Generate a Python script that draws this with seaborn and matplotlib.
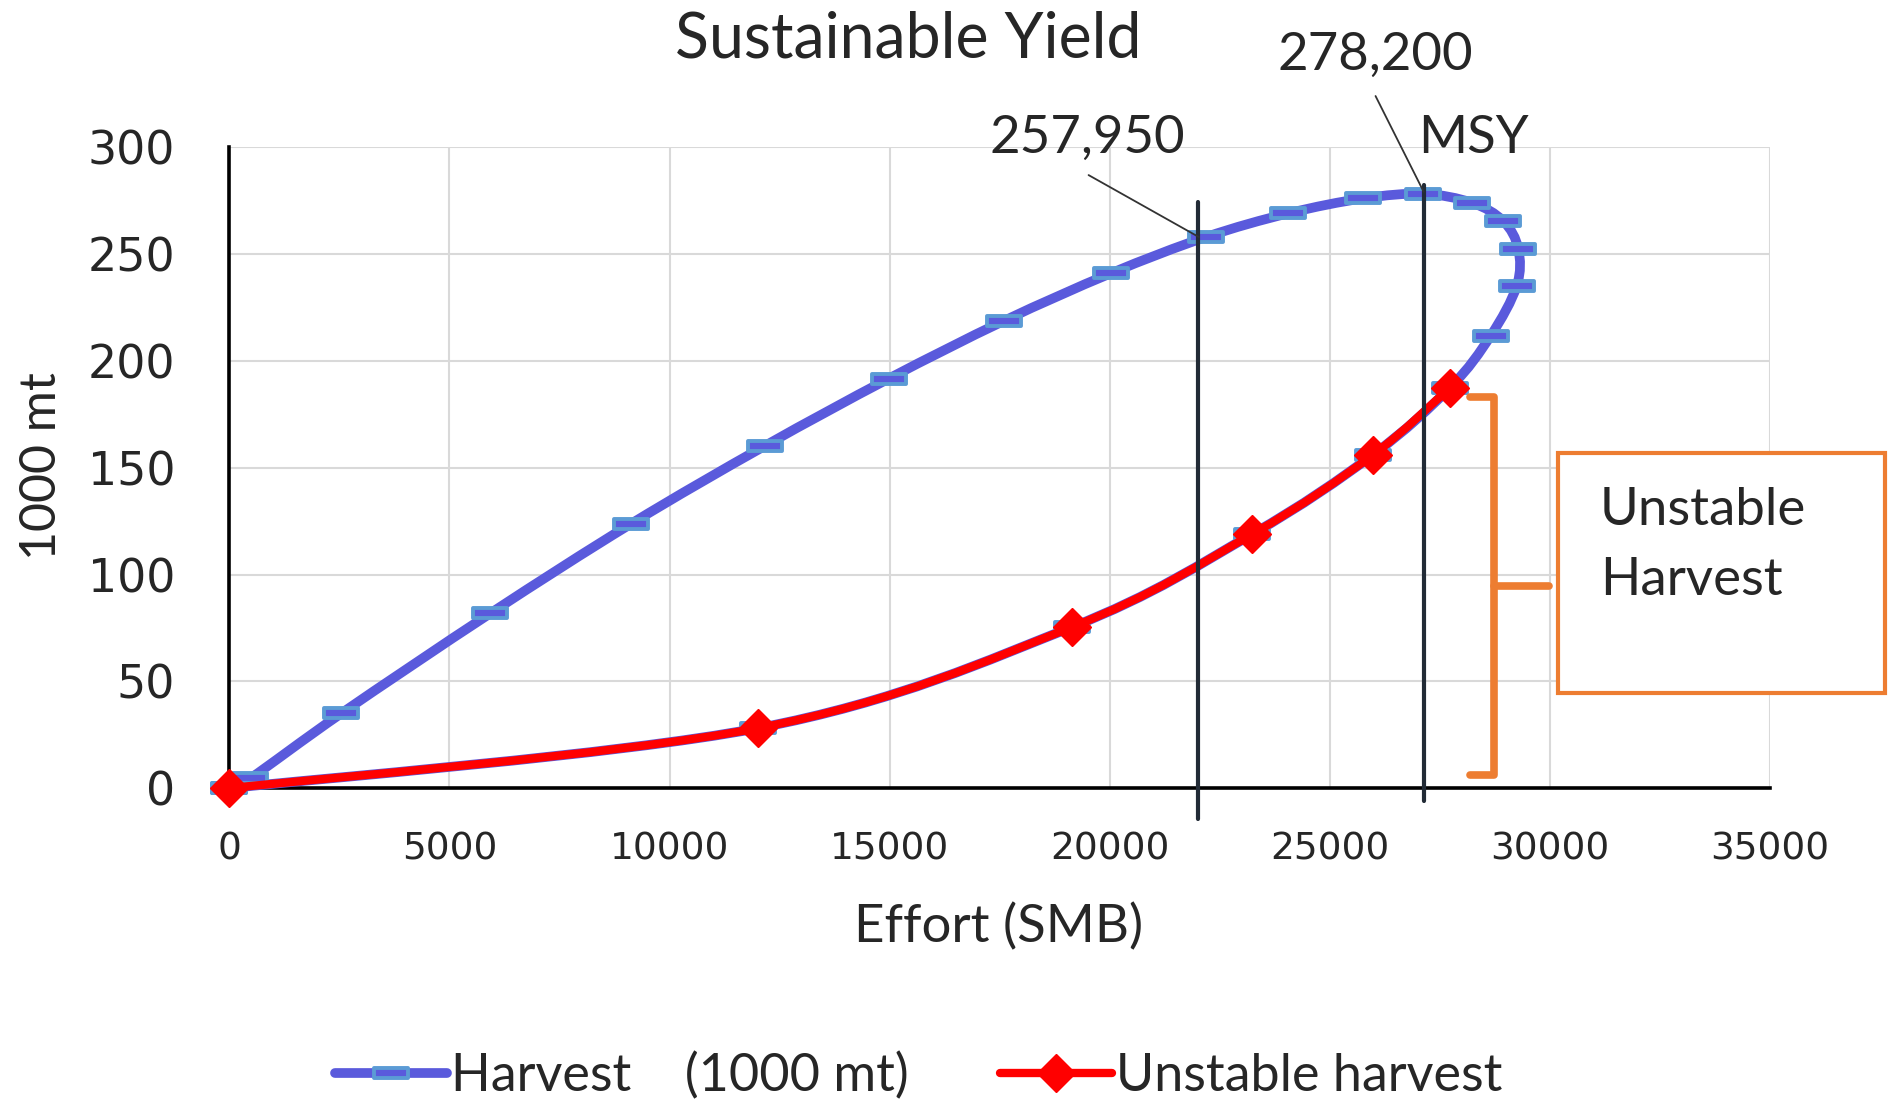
import numpy as np
import pandas as pd
import matplotlib
matplotlib.use("Agg")
import matplotlib.pyplot as plt
import seaborn as sns
from matplotlib.path import Path
from matplotlib.patches import PathPatch, Rectangle
from matplotlib.lines import Line2D

# ---------------- data ----------------
harvest_effort = [0, 480, 2547, 5931, 9119, 12170, 14977, 17590, 20023, 22180,
                  24057, 25761, 27124, 28224, 28941, 29282, 29246, 28655, 27731,
                  25975, 23240, 19134, 12000, 0]
harvest_yield = [0, 4.7, 35.1, 81.9, 123.7, 160.3, 191.7, 218.7, 241.0, 257.95,
                 269.1, 276.1, 278.2, 274.1, 265.5, 252.5, 235.1, 211.8, 187.5,
                 156.0, 119.0, 75.4, 28.1, 0]
unstable_effort = [0, 12000, 19134, 23240, 25975, 27731]
unstable_yield = [0, 28.1, 75.4, 119.0, 156.0, 187.5]

x_ticks = [0, 5000, 10000, 15000, 20000, 25000, 30000, 35000]
y_ticks = [0, 50, 100, 150, 200, 250, 300]

ref_efforts = [22000, 27150]          # vertical reference lines
ref_values = ["257,950", "278,200"]
unstable_range = [6.2, 183.3]         # bracket span (1000 mt)

title_text = "Sustainable Yield"
x_label = "Effort (SMB)"
y_label = "1000 mt"
series_names = ["Harvest    (1000 mt)", "Unstable harvest"]

# ---------------- style ----------------
sns.set_style("white")
plt.rcParams["font.family"] = ["Lato", "DejaVu Sans"]

BLUE = "#5A5ADC"
LIGHT_BLUE = "#5B9BD5"
RED = "#FF0000"
ORANGE = "#ED7D31"
VLINE = "#222B36"

W, H = 1888, 1102
fig = plt.figure(figsize=(W / 100, H / 100), dpi=100)
fx = lambda px: px / W
fy = lambda py: 1 - py / H

ax = fig.add_axes([fx(229.3), fy(788.3), (1770 - 229.3) / W, (788.3 - 147.3) / H])


def smooth_path(xs, ys):
    P = np.column_stack([xs, ys]).astype(float)
    n = len(P)
    verts = [P[0]]
    codes = [Path.MOVETO]
    for i in range(n - 1):
        p0 = P[i - 1] if i > 0 else P[i]
        p1 = P[i]
        p2 = P[i + 1]
        p3 = P[i + 2] if i + 2 < n else P[i + 1]
        c1 = p1 + (p2 - p0) / 6.0
        c2 = p2 - (p3 - p1) / 6.0
        verts += [c1, c2, p2]
        codes += [Path.CURVE4] * 3
    return Path(verts, codes)


dash_marker = Path([(-1, -0.3), (1, -0.3), (1, 0.3), (-1, 0.3), (-1, -0.3)],
                   [Path.MOVETO, Path.LINETO, Path.LINETO, Path.LINETO, Path.CLOSEPOLY])

harvest_df = pd.DataFrame({"effort": harvest_effort, "yield": harvest_yield})
unstable_df = pd.DataFrame({"effort": unstable_effort, "yield": unstable_yield})

# harvest smooth line
ax.add_patch(PathPatch(smooth_path(harvest_effort, harvest_yield), fill=False,
                       edgecolor=BLUE, lw=7, zorder=3, clip_on=False,
                       capstyle="round", joinstyle="round"))
sns.lineplot(data=harvest_df, x="effort", y="yield", ax=ax, estimator=None, sort=False,
             linestyle="none", marker=dash_marker, markersize=25, markerfacecolor=BLUE,
             markeredgecolor=LIGHT_BLUE, markeredgewidth=2.8, zorder=4, clip_on=False,
             legend=False)

# unstable smooth line
ax.add_patch(PathPatch(smooth_path(unstable_effort, unstable_yield), fill=False,
                       edgecolor=RED, lw=6, zorder=5, clip_on=False,
                       capstyle="round", joinstyle="round"))
sns.lineplot(data=unstable_df, x="effort", y="yield", ax=ax, estimator=None, sort=False,
             linestyle="none", marker="D", markersize=19, markerfacecolor=RED,
             markeredgecolor=RED, markeredgewidth=1, zorder=6, clip_on=False,
             legend=False)

# axes
ax.set_xlim(0, 35000)
ax.set_ylim(0, 300)
ax.set_xticks(x_ticks)
ax.set_yticks(y_ticks)
ax.set_xticks(np.arange(2500, 35000, 5000), minor=True)
ax.set_yticks(np.arange(25, 300, 50), minor=True)
ax.set_xticklabels([str(v) for v in x_ticks], fontfamily="DejaVu Sans", fontsize=27)
ax.set_yticklabels([str(v) for v in y_ticks], fontfamily="DejaVu Sans", fontsize=33)
ax.tick_params(axis="x", which="major", direction="out", length=10, width=2.2, pad=21, color="black")
ax.tick_params(axis="x", which="minor", direction="out", length=10, width=2.2, color="black")
ax.tick_params(axis="y", which="major", direction="out", length=12, width=2.2, pad=27, color="black")
ax.tick_params(axis="y", which="minor", direction="out", length=9, width=2.2, color="black")
ax.set_xlabel("")
ax.set_ylabel("")
for s in ["top", "right"]:
    ax.spines[s].set_visible(False)
for s in ["left", "bottom"]:
    ax.spines[s].set_color("black")
    ax.spines[s].set_linewidth(2.6)
ax.grid(True, which="major", color="#D9D9D9", lw=1.5)
ax.set_axisbelow(True)

# reference vertical lines
ax.plot([ref_efforts[0]] * 2, [-14.2, 274.3], color=VLINE, lw=3, zorder=7, clip_on=False)
ax.plot([ref_efforts[1]] * 2, [-5.8, 282.4], color=VLINE, lw=3, zorder=7, clip_on=False)
# leader lines
ax.plot([19520, 22025], [287, 258], color="#333333", lw=1.3, zorder=7, clip_on=False)
ax.plot([26039, 27132], [324, 279.2], color="#333333", lw=1.3, zorder=7, clip_on=False)

# bracket
ax.plot([28182, 28727, 28727, 28182], [unstable_range[1], unstable_range[1],
                                       unstable_range[0], unstable_range[0]],
        color=ORANGE, lw=5.5, zorder=7, clip_on=False, solid_joinstyle="round")
mid = (unstable_range[0] + unstable_range[1]) / 2
ax.plot([28727, 29977], [mid, mid], color=ORANGE, lw=5.5, zorder=7, clip_on=False)

# text box
fig.patches.append(Rectangle((fx(1557.6), fy(692.7)), (1885 - 1557.6) / W, (692.7 - 452.7) / H,
                             transform=fig.transFigure, facecolor="white", edgecolor=ORANGE,
                             lw=3, zorder=10))
fig.text(fx(1599.8), fy(525), "Unstable", fontsize=38, ha="left", va="baseline", zorder=11)
fig.text(fx(1599.8), fy(595), "Harvest", fontsize=38, ha="left", va="baseline", zorder=11)

# annotation texts
fig.text(fx(1087.8), fy(153), ref_values[0], fontsize=38, ha="center", va="baseline")
fig.text(fx(1375.5), fy(70), ref_values[1], fontsize=38, ha="center", va="baseline")
fig.text(fx(1473), fy(153), "MSY", fontsize=38, ha="center", va="baseline")

# titles
fig.text(fx(908.6), fy(58), title_text, fontsize=45, ha="center", va="baseline")
fig.text(fx(999), fy(927), x_label, fontsize=38, ha="center", va="center")
fig.text(fx(42), fy(466.5), y_label, fontsize=36, ha="center", va="center", rotation=90)

# legend
handles = [
    Line2D([], [], color=BLUE, lw=7, marker=dash_marker, markersize=25,
           markerfacecolor=BLUE, markeredgecolor=LIGHT_BLUE, markeredgewidth=2.8),
    Line2D([], [], color=RED, lw=6, marker="D", markersize=19,
           markerfacecolor=RED, markeredgecolor=RED),
]
fig.legend(handles, series_names, loc="center left", bbox_to_anchor=(fx(334.8), fy(1076)),
           ncol=2, frameon=False, fontsize=37.5, handlelength=2.15, handletextpad=0.08,
           columnspacing=1.75, borderpad=0, borderaxespad=0, numpoints=1)

fig.savefig("out.png", dpi=100)
